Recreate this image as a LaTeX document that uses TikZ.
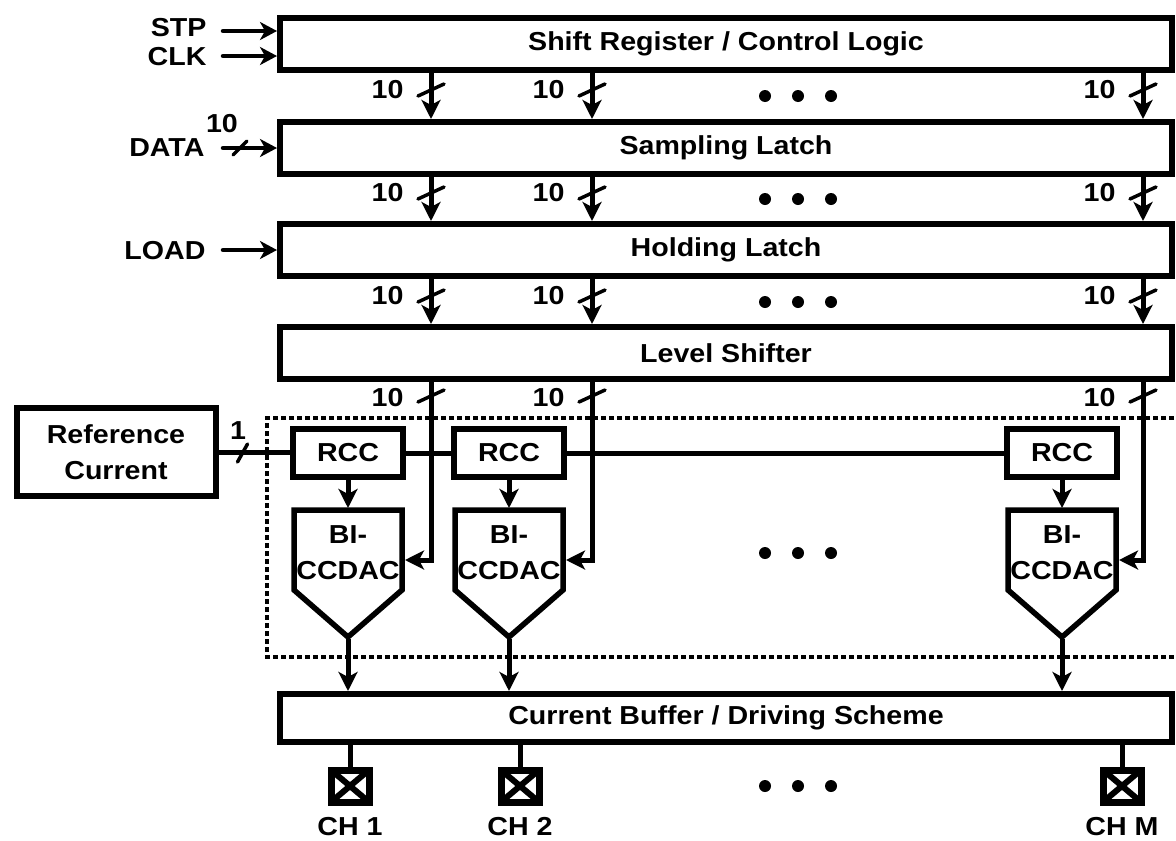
\documentclass[tikz,border=0pt]{standalone}
\usepackage{fontspec}
\setmainfont{Liberation Sans}[FakeStretch=1.1]
\usetikzlibrary{arrows.meta}
\usetikzlibrary{positioning}

\begin{document}
\begin{tikzpicture}[x=1pt,y=-1pt,
    font=\fontsize{26}{36}\selectfont\bfseries,
    blk/.style={draw,line width=6pt,minimum width=892pt,minimum height=52pt,inner sep=0pt},
    rccbox/.style={draw,line width=6pt,minimum width=110pt,minimum height=48pt,inner sep=0pt},
    bus/.style={line width=5pt,-{Stealth[length=19pt,width=19pt,inset=5pt]}},
    sig/.style={line width=4.5pt,line cap=round,-{Stealth[length=17pt,width=18pt,inset=5pt]}},
    cut/.style={line width=3.5pt,line cap=round}]
        \useasboundingbox (0,0) rectangle (1176,841);
        % columns of the 10-bit buses
        \coordinate (c1) at (431,0);
        \coordinate (c2) at (592,0);
        \coordinate (cM) at (1143,0);
        \node[blk] (sr) at (726,44) {Shift Register / Control Logic};
        \node[blk] (sl) at (726,148) {Sampling Latch};
        \node[blk] (hl) at (726,250) {Holding Latch};
        \node[blk] (ls) at (726,353) {Level Shifter};
        \node[blk,minimum height=48pt] (cb) at (726,718) {Current Buffer / Driving Scheme};
        % inputs
        \node[anchor=east] (stp) at (210,28) {STP};
        \node[anchor=east] (clk) at (210,57) {CLK};
        \node[anchor=east] (data) at (208,148) {DATA};
        \node (dataw) at (222,124) {10};
        \node[anchor=east] (load) at (209,251) {LOAD};
        \coordinate (stpin) at (223,31);
        \coordinate (clkin) at (223,56);
        \coordinate (datain) at (223,148);
        \coordinate (loadin) at (223,250);
        \draw[sig] (stpin) -- (stpin -| sr.west);
        \draw[sig] (clkin) -- (clkin -| sr.west);
        \draw[sig] (datain) -- (datain -| sl.west);
        \draw[cut] (datain) ++(10,7) -- ++(14,-14);
        \draw[sig] (loadin) -- (loadin -| hl.west);
        % buses between the blocks
        \foreach \a/\b/\y in {sr/sl/90, sl/hl/193, hl/ls/296}{
            \foreach \c in {c1,c2,cM}{
                \draw[bus] (\a.south -| \c) -- (\b.north -| \c);
                \draw[cut] (\c) ++(-13,\y+6) -- ++(26,-12);
                \node[anchor=east] (w\a\c) at ([shift={(-24,\y)}]\c) {10};
            }
            \foreach \d in {765,798,831} \fill (\d,\y+6) circle (6pt);
        }
        % reference current
        \node[draw,line width=6pt,minimum width=199pt,minimum height=88pt,inner sep=0pt,align=center] (ref) at (116,452) {Reference\\Current};
        \draw[line width=3.5pt,dash pattern=on 5pt off 3pt] (1190,418) -- (267,418) -- (267,657) -- (1190,657);
        % DAC channels
        \foreach \n/\x in {1/348, 2/509, M/1062}{
            \draw[line width=5.5pt,line join=miter] (\x-54,510) -- (\x+54,510) -- (\x+54,590) -- (\x,637) -- (\x-54,590) -- cycle;
            \node[align=center] (dac\n) at (\x,553) {BI-\\CCDAC};
            \node[rccbox] (rcc\n) at (\x,453) {RCC};
            \coordinate (dtop\n) at (\x,508);
            \coordinate (din\n) at (\x+57,560);
            \coordinate (dout\n) at (\x,639);
            \draw[bus] (rcc\n.south) -- (dtop\n);
            \draw[bus] (dout\n) -- (cb.north -| dout\n);
        }
        \draw[line width=5pt] (ref.east) -- (ref.east -| rcc1.west);
        \draw[line width=5pt] (rcc1.east) -- (rcc2.west);
        \draw[line width=5pt] (rcc2.east) -- (rccM.west);
        \draw[cut] (ref.east) ++(19,10) -- ++(10,-18);
        \node (refw) at (238,431) {1};
        \foreach \c/\n in {c1/1, c2/2, cM/M}{
            \draw[bus] (ls.south -| \c) |- (din\n);
            \draw[cut] (\c) ++(-13,402) -- ++(26,-12);
            \node[anchor=east] (wls\c) at ([shift={(-24,398)}]\c) {10};
        }
        \foreach \d in {765,798,831} \fill (\d,553) circle (6pt);
        % output pads
        \foreach \n/\x in {1/350, 2/520, M/1122}{
            \node[draw,line width=7pt,minimum width=38pt,minimum height=32pt,inner sep=0pt,outer sep=0pt] (pad\n) at (\x,786) {};
            \draw[line width=6pt] (pad\n.north west) -- (pad\n.south east) (pad\n.south west) -- (pad\n.north east);
            \draw[line width=5pt] (cb.south -| pad\n.north) -- (pad\n.north);
            \node (ch\n) at (\x,827) {CH \n};
        }
        \foreach \d in {765,798,831} \fill (\d,786) circle (6pt);
    \end{tikzpicture}
\end{document}
